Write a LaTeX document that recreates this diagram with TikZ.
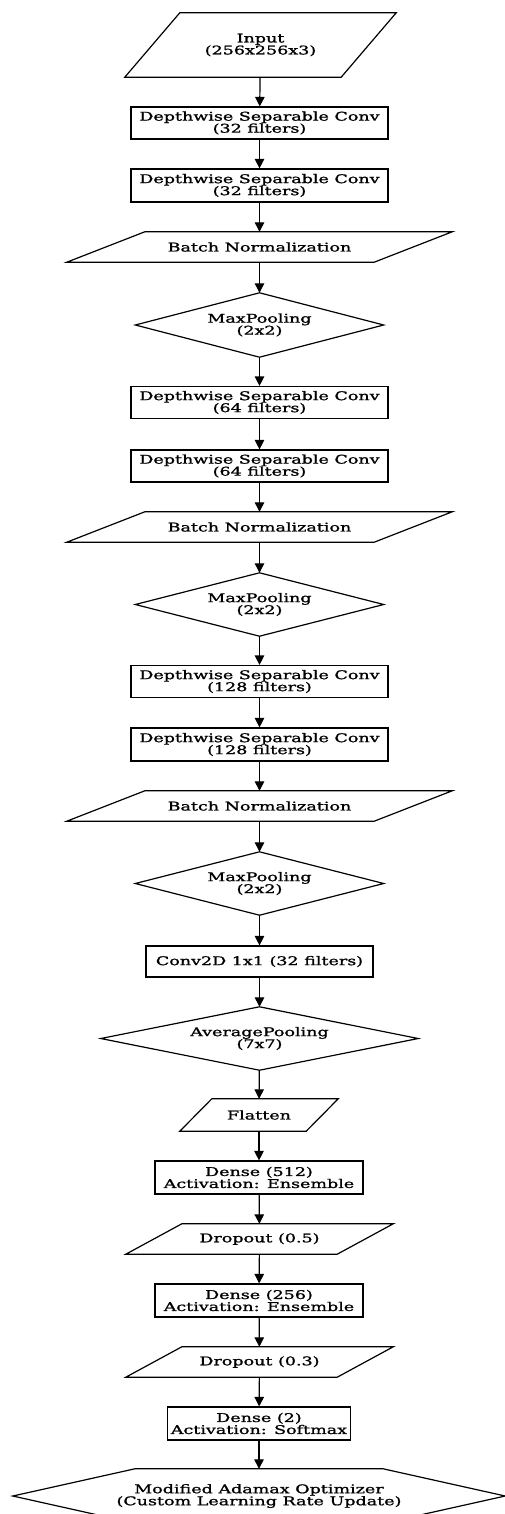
\documentclass[tikz,border=0pt]{standalone}
\usepackage{fontspec}
\setmainfont{DejaVu Serif}[FakeStretch=1.46, FakeBold=1.3]
\usetikzlibrary{arrows.meta}
\begin{document}
\begin{tikzpicture}[x=1pt,y=-1pt,
  every node/.style={font=\fontsize{12}{12}\selectfont, align=center, inner sep=0pt},
  box/.style={draw, line width=1.2pt},
  outline/.style={draw, line width=1.2pt, line join=miter},
  arr/.style={line width=1.2pt, -{Triangle[length=9.5pt,width=9.5pt]}}]
\clip (0,0) rectangle (505,1514);
\fill[white] (0,0) rectangle (505,1514);
% nodes
\node[minimum width=271, minimum height=64] (in) at (260.5,45) {Input\\(256x256x3)};
\node[box, minimum width=257, minimum height=32] (c1) at (259.5,123) {Depthwise Separable Conv\\(32 filters)};
\node[box, minimum width=257, minimum height=33] (c2) at (259.5,185.5) {Depthwise Separable Conv\\(32 filters)};
\node[minimum width=385, minimum height=30] (bn1) at (259.5,247) {Batch Normalization};
\node[minimum width=248, minimum height=64] (mp1) at (259.5,325) {MaxPooling\\(2x2)};
\node[box, minimum width=257, minimum height=32] (c3) at (259.5,402.5) {Depthwise Separable Conv\\(64 filters)};
\node[box, minimum width=257, minimum height=32] (c4) at (259.5,466) {Depthwise Separable Conv\\(64 filters)};
\node[minimum width=385, minimum height=30] (bn2) at (259.5,527) {Batch Normalization};
\node[minimum width=248, minimum height=63] (mp2) at (259.5,604.5) {MaxPooling\\(2x2)};
\node[box, minimum width=257, minimum height=32] (c5) at (259.5,681.5) {Depthwise Separable Conv\\(128 filters)};
\node[box, minimum width=257, minimum height=33] (c6) at (259.5,744.5) {Depthwise Separable Conv\\(128 filters)};
\node[minimum width=385, minimum height=30] (bn3) at (259.5,806) {Batch Normalization};
\node[minimum width=248, minimum height=63] (mp3) at (259.5,883.5) {MaxPooling\\(2x2)};
\node[box, minimum width=227, minimum height=31] (cv) at (259.5,961.5) {Conv2D 1x1 (32 filters)};
\node[minimum width=317, minimum height=63] (avg) at (259.5,1038.5) {AveragePooling\\(7x7)};
\node[minimum width=158, minimum height=32] (fl) at (259,1115) {Flatten};
\node[box, minimum width=208, minimum height=33] (d1) at (259,1177.5) {Dense (512)\\Activation: Ensemble};
\node[minimum width=267, minimum height=30] (do1) at (259.5,1239) {Dropout (0.5)};
\node[box, minimum width=208, minimum height=33] (d2) at (259,1300.5) {Dense (256)\\Activation: Ensemble};
\node[minimum width=267, minimum height=30] (do2) at (259.5,1362) {Dropout (0.3)};
\node[box, minimum width=183, minimum height=33] (d3) at (259,1423.5) {Dense (2)\\Activation: Softmax};
\node[minimum width=492, minimum height=54] (opt) at (259,1496) {Modified Adamax Optimizer\\(Custom Learning Rate Update)};
% parallelograms
\foreach \n/\s in {in/55, bn1/78, bn2/78, bn3/78, fl/32, do1/56, do2/56}
  \draw[outline] ([xshift=\s]\n.north west) -- (\n.north east) -- ([xshift=-\s]\n.south east) -- (\n.south west) -- cycle;
% diamonds
\foreach \n in {mp1, mp2, mp3, avg}
  \draw[outline] (\n.north) -- (\n.east) -- (\n.south) -- (\n.west) -- cycle;
% hexagon
\draw[outline] ([xshift=122]opt.north west) -- ([xshift=-122]opt.north east) -- (opt.east)
  -- ([xshift=-122]opt.south east) -- ([xshift=122]opt.south west) -- (opt.west) -- cycle;
% connectors
\foreach \a/\b in {in/c1, c1/c2, c2/bn1, bn1/mp1, mp1/c3, c3/c4, c4/bn2, bn2/mp2, mp2/c5, c5/c6, c6/bn3, bn3/mp3, mp3/cv, cv/avg, avg/fl, fl/d1, d1/do1, do1/d2, d2/do2, do2/d3, d3/opt}
  \draw[arr] (\a) -- (\b);
\end{tikzpicture}
\end{document}
